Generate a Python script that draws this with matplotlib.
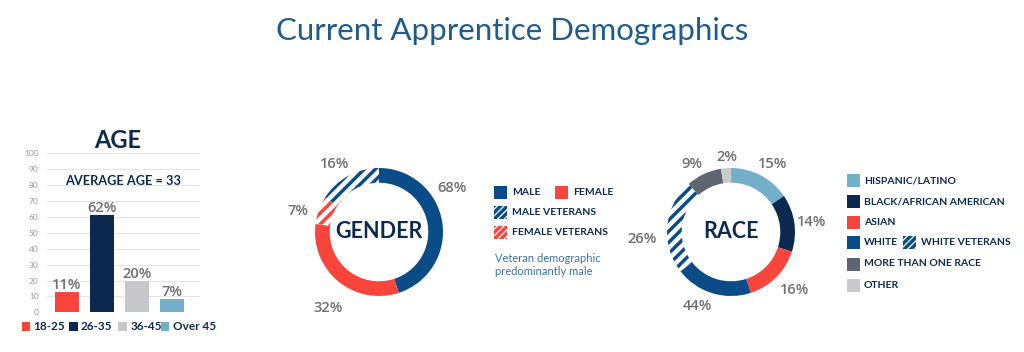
import matplotlib
matplotlib.use("Agg")
import matplotlib.pyplot as plt
from matplotlib.patches import Rectangle

W, H = 1024, 352
plt.rcParams['font.family'] = ['Lato', 'DejaVu Sans']
plt.rcParams['hatch.linewidth'] = 2.5

# ---------------- data ----------------
age_groups = ["18-25", "26-35", "36-45", "Over 45"]
age_values = [12.5, 61, 19.5, 8.5]
age_labels = ["11%", "62%", "20%", "7%"]
age_ticks = list(range(0, 101, 10))
average_age = 33

gender_cats = ["MALE", "FEMALE", "FEMALE VETERANS", "MALE VETERANS"]
gender_values = [45, 32, 7, 16]
gender_labels = ["68%", "32%", "7%", "16%"]
gender_hatched = [False, False, True, True]

race_cats = ["HISPANIC/LATINO", "BLACK/AFRICAN AMERICAN", "ASIAN", "WHITE",
             "WHITE VETERANS", "MORE THAN ONE RACE", "OTHER"]
race_values = [15.5, 14.5, 15, 19.5, 24, 9, 2.5]
race_labels = ["15%", "14%", "16%", "44%", "26%", "9%", "2%"]
race_hatched = [False, False, False, False, True, False, False]

# ---------------- styles ----------------
NAVY = "#0C2A4F"
BLUE = "#0A4C88"
RED = "#F9453B"
LGRAY = "#C6C8CB"
LBLUE = "#74AFC9"
DGRAY = "#5D6570"
OGRAY = "#C8CACD"
LABEL = "#6D6F73"
TITLE = "#1D5C8C"
NOTE = "#3A72A6"
PCT_FONT = dict(family=["Open Sans", "Lato", "DejaVu Sans"], fontweight="semibold")

age_colors = [RED, NAVY, LGRAY, LBLUE]
gender_colors = [BLUE, RED, RED, BLUE]
race_colors = [LBLUE, NAVY, RED, BLUE, BLUE, DGRAY, OGRAY]

fig = plt.figure(figsize=(W / 100, H / 100), dpi=100)
fig.patch.set_facecolor("white")

# overlay axes in pixel coordinates
ov = fig.add_axes([0, 0, 1, 1])
ov.set_xlim(0, W)
ov.set_ylim(H, 0)
ov.axis("off")
ov.patch.set_visible(False)


def px_axes(x0, y0, x1, y1):
    a = fig.add_axes([x0 / W, 1 - y1 / H, (x1 - x0) / W, (y1 - y0) / H])
    a.patch.set_visible(False)
    return a


# title
ov.text(512, 31, "Current Apprentice Demographics", ha="center", va="center",
        fontsize=22.5, color=TITLE)

# ---------------- AGE bar chart ----------------
ax = px_axes(47, 153.3, 200, 312.3)
x = list(range(len(age_groups)))
ax.bar(x, age_values, width=0.69, color=age_colors, zorder=3)
ax.set_xlim(-0.56, 3.79)
ax.set_ylim(0, 100)
ax.set_yticks(age_ticks)
ax.set_xticks([])
ax.grid(axis="y", color="#E4E4E4", lw=0.8, zorder=0)
for s in ax.spines.values():
    s.set_visible(False)
ax.tick_params(axis="y", length=0, labelsize=6, labelcolor="#9A9A9A", pad=6)
for xi, v, lab in zip(x, age_values, age_labels):
    ax.annotate(lab, (xi, v), xytext=(0, 0), textcoords="offset points",
                ha="center", va="bottom", fontsize=10.5, color=LABEL,
                **PCT_FONT)

ov.text(118, 140, "AGE", ha="center", va="center", fontsize=17,
        fontweight="bold", color=NAVY)
ov.text(123, 181, f"AVERAGE AGE = {average_age}", ha="center", va="center",
        fontsize=9.2, fontweight="bold", color=NAVY)

age_leg_x = [21.5, 69, 118.3, 160.7]
for lx, c, g in zip(age_leg_x, age_colors, age_groups):
    ov.add_patch(Rectangle((lx, 321.7), 8.5, 9, color=c, lw=0))
    ov.text(lx + 12, 326.5, g, ha="left", va="center", fontsize=8.5,
            fontweight="bold", color=NAVY)


# ---------------- donut helper ----------------
def donut(cx, cy, r, values, colors, hatched, center_text):
    half = 70
    a = px_axes(cx - half, cy - half, cx + half, cy + half)
    wedges, _ = a.pie(values, radius=1, startangle=90, counterclock=False,
                      colors=colors, wedgeprops=dict(width=0.23, linewidth=0))
    for w_, c, h in zip(wedges, colors, hatched):
        if h:
            w_.set_facecolor("white")
            w_.set_edgecolor(c)
            w_.set_hatch("///")
            w_.set_linewidth(0)
    lim = half / r
    a.set_xlim(-lim, lim)
    a.set_ylim(-lim, lim)
    a.set_aspect("equal")
    a.axis("off")
    a.text(0, 0, center_text, ha="center", va="center", fontsize=15.5,
           fontweight="bold", color=NAVY)
    return a


# ---------------- GENDER ----------------
donut(379, 232, 64, gender_values, gender_colors, gender_hatched, "GENDER")
gender_label_pos = [(452, 188), (328, 308), (298, 211), (335, 164)]
for (lx, ly), lab in zip(gender_label_pos, gender_labels):
    ov.text(lx, ly, lab, ha="center", va="center", fontsize=10.5, color=LABEL,
            **PCT_FONT)

# gender legend
ov.add_patch(Rectangle((494, 186), 13, 13, color=BLUE, lw=0))
ov.text(512, 192.5, "MALE", ha="left", va="center", fontsize=7.5,
        fontweight="bold", color=NAVY)
ov.add_patch(Rectangle((555, 186), 13, 13, color=RED, lw=0))
ov.text(573, 192.5, "FEMALE", ha="left", va="center", fontsize=7.5,
        fontweight="bold", color=NAVY)
ov.add_patch(Rectangle((494, 206), 13, 13, facecolor="white", edgecolor=BLUE,
                       hatch="/////", lw=0))
ov.text(512, 212.5, "MALE VETERANS", ha="left", va="center", fontsize=7.5,
        fontweight="bold", color=NAVY)
ov.add_patch(Rectangle((494, 226), 13, 13, facecolor="white", edgecolor=RED,
                       hatch="/////", lw=0))
ov.text(512, 232.5, "FEMALE VETERANS", ha="left", va="center", fontsize=7.5,
        fontweight="bold", color=NAVY)
ov.text(495, 265, "Veteran demographic\npredominantly male", ha="left",
        va="center", fontsize=8, color=NOTE, linespacing=1.15)

# ---------------- RACE ----------------
donut(731, 232, 64, race_values, race_colors, race_hatched, "RACE")
race_label_pos = [(773, 164), (812, 222), (795, 290), (697, 306), (642, 239),
                  (692, 164), (727, 157)]
for (lx, ly), lab in zip(race_label_pos, race_labels):
    ov.text(lx, ly, lab, ha="center", va="center", fontsize=10.5, color=LABEL,
            **PCT_FONT)

race_rows = [180.7, 201.7, 222.3, 242.7, 264, 285]
race_leg = [("HISPANIC/LATINO", LBLUE), ("BLACK/AFRICAN AMERICAN", NAVY),
            ("ASIAN", RED), ("WHITE", BLUE), ("MORE THAN ONE RACE", DGRAY),
            ("OTHER", OGRAY)]
for ry, (name, c) in zip(race_rows, race_leg):
    ov.add_patch(Rectangle((847, ry - 6.5), 13, 13, color=c, lw=0))
    ov.text(864, ry, name, ha="left", va="center", fontsize=7.5,
            fontweight="bold", color=NAVY)
ov.add_patch(Rectangle((903, race_rows[3] - 6.5), 13, 13, facecolor="white",
                       edgecolor=BLUE, hatch="/////", lw=0))
ov.text(921, race_rows[3], race_cats[4], ha="left", va="center", fontsize=7.5,
        fontweight="bold", color=NAVY)

fig.savefig("out.png", dpi=100, facecolor="white")
